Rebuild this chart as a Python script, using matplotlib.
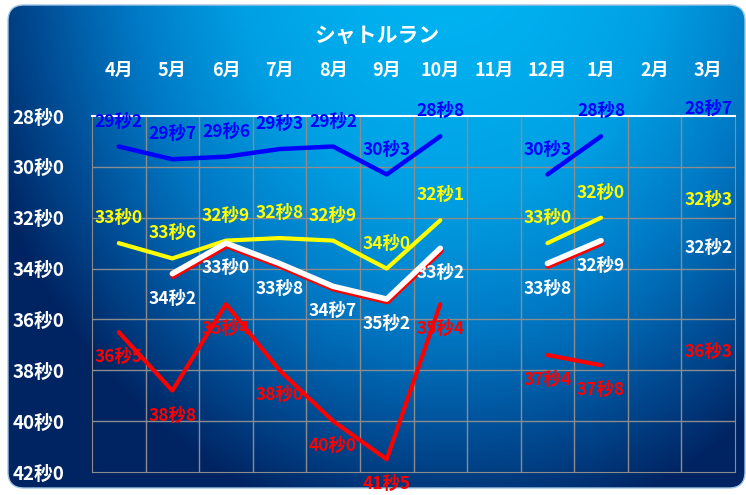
import numpy as np
import matplotlib
matplotlib.use("Agg")
import matplotlib.pyplot as plt
import matplotlib.patheffects as pe
from matplotlib.patches import FancyBboxPatch
from matplotlib.colors import LinearSegmentedColormap

plt.rcParams['font.family'] = ['Noto Sans CJK JP', 'DejaVu Sans']

months = ['4月', '5月', '6月', '7月', '8月', '9月', '10月', '11月', '12月', '1月', '2月', '3月']
nan = np.nan
blue_vals = [29.2, 29.7, 29.6, 29.3, 29.2, 30.3, 28.8, nan, 30.3, 28.8, nan, 28.7]
yellow_vals = [33.0, 33.6, 32.9, 32.8, 32.9, 34.0, 32.1, nan, 33.0, 32.0, nan, 32.3]
white_vals = [nan, 34.2, 33.0, 33.8, 34.7, 35.2, 33.2, nan, 33.8, 32.9, nan, 32.2]
red_vals = [36.5, 38.8, 35.4, 38.0, 40.0, 41.5, 35.4, nan, 37.4, 37.8, nan, 36.3]
y_ticks = [28, 30, 32, 34, 36, 38, 40, 42]


def fmt(v):
    # 29.2 -> 29秒2
    s = f"{v:.1f}"
    a, b = s.split('.')
    return f"{a}秒{b}"


W, H = 746, 495
fig = plt.figure(figsize=(W / 100, H / 100), dpi=100, facecolor='white')

# background: rounded panel with blue gradient
bg = fig.add_axes([0, 0, 1, 1], zorder=-5)
bg.set_xlim(0, W)
bg.set_ylim(H, 0)
bg.axis('off')
xx, yy = np.meshgrid(np.linspace(0, W, 300), np.linspace(0, H, 200))
d = np.sqrt(((xx - 450) / 500) ** 2 + ((yy + 60) / 600) ** 2)
t = np.clip(d, 0, 1) ** 1.6
cmap = LinearSegmentedColormap.from_list('bg', ['#00B4F2', '#00A0E4', '#0078C4', '#004C94', '#002462'])
img = bg.imshow(t, extent=(0, W, H, 0), cmap=cmap, vmin=0, vmax=1, aspect='auto')
panel = FancyBboxPatch((8, 5), W - 9, H - 12, boxstyle='round,pad=0,rounding_size=16',
                       transform=bg.transData, facecolor='none', edgecolor='#9DC3E6', lw=1)
bg.add_patch(panel)
img.set_clip_path(panel)

ax = fig.add_axes([92 / W, 1 - 472 / H, (735 - 92) / W, (472 - 116) / H])
ax.patch.set_alpha(0)
x = np.arange(len(months))
ax.set_xlim(-0.5, 11.5)
ax.set_ylim(42, 28)

for v in np.arange(0.5, 11.5, 1):
    ax.axvline(v, color='#8C8C8C', lw=1, zorder=1)
for v in y_ticks[1:-1]:
    ax.axhline(v, color='#8C8C8C', lw=1, zorder=1)
for s in ['left', 'right', 'bottom']:
    ax.spines[s].set_color('#8C8C8C')
ax.spines['top'].set_color('white')
ax.spines['top'].set_linewidth(1.5)

ax.xaxis.tick_top()
ax.set_xticks(x)
ax.set_xticklabels(months, color='white', fontsize=13, fontweight='bold')
ax.tick_params(axis='x', length=0, pad=26)
ax.set_yticks(y_ticks)
ax.set_yticklabels([fmt(v) for v in y_ticks], color='white', fontsize=13.5, fontweight='bold')
ax.tick_params(axis='y', length=0, pad=20)

ax.plot(x, blue_vals, color='#0000FF', lw=3.2, zorder=3, solid_capstyle='round')
ax.plot(x, yellow_vals, color='#FFFF00', lw=3, zorder=3, solid_capstyle='round')
ax.plot(x, white_vals, color='white', lw=4, zorder=4, solid_capstyle='round',
        path_effects=[pe.SimpleLineShadow(offset=(0.5, -1.8), shadow_color='red', alpha=1),
                      pe.Normal()])
ax.plot(x, red_vals, color='#FF0000', lw=3, zorder=3, solid_capstyle='round')

series = [(blue_vals, '#0000FF', 18), (yellow_vals, '#FFFF00', 18),
          (white_vals, 'white', -18), (red_vals, '#FF0000', -18)]
for vals, col, off in series:
    for xi, v in zip(x, vals):
        if np.isnan(v):
            continue
        ax.annotate(fmt(v), (xi, v), xytext=(0, off), textcoords='offset points',
                    ha='center', va='center', color=col, fontsize=12.5,
                    fontweight='bold', zorder=6, annotation_clip=False)

fig.text(0.5 + 8 / W / 2, 1 - 35 / H, 'シャトルラン', color='white', fontsize=15,
         fontweight='bold', ha='center', va='center')

fig.savefig('out.png', dpi=100, facecolor='white')
